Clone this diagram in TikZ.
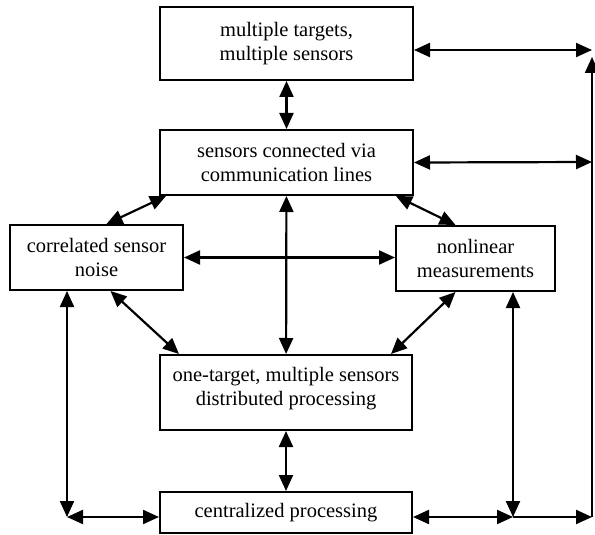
\documentclass[tikz,border=0pt]{standalone}
\usepackage{fontspec}
\setmainfont{Liberation Serif}
\usetikzlibrary{arrows.meta}

\begin{document}
\begin{tikzpicture}[x=1pt, y=-1pt,
rectWide/.style={rectangle, draw=black, line width=2pt, minimum width=253pt, align=center, inner sep=0pt, font=\fontsize{20.5}{24}\selectfont},
rectSide/.style={rectangle, draw=black, line width=2pt, minimum height=65pt, align=center, inner sep=0pt, font=\fontsize{20.5}{24}\selectfont},
link/.style={line width=2.2pt, {Triangle[length=16pt,width=14pt]}-{Triangle[length=16pt,width=14pt]}},
linkOne/.style={line width=2.2pt, -{Triangle[length=16pt,width=14pt]}}]

\useasboundingbox (0,0) rectangle (595,535);

\node[rectWide, minimum height=73pt] (multi) at (286.5, 43.5) {multiple targets,\\ multiple sensors};
\node[rectWide, minimum height=65pt] (comm) at (286.5, 162.5) {sensors connected via\\ communication lines};

\node[rectSide, minimum width=173pt] (corr) at (96.5, 257.5) {correlated sensor\\ noise};
\node[rectSide, minimum width=159pt] (nonlin) at (475.5, 258.5) {nonlinear\\ measurements};

\node[rectWide, minimum width=252pt, minimum height=75pt] (onet) at (286, 392.5) {one-target, multiple sensors\\ distributed processing\\[-12pt]};
\node[rectWide, minimum width=252pt, minimum height=41pt] (cent) at (286, 512.5) {centralized processing};

\coordinate (rTop) at (592, 50);
\coordinate (rTopUp) at (592, 57);
\coordinate (rMid) at (592, 162);
\coordinate (rBot) at (592, 517);
\coordinate (rJoin) at (513, 517);
\coordinate (lBot) at (67, 517);

\path[link] (multi) edge (comm)
	([yshift=-6.5pt]multi.east) edge (rTop)
	(comm.east) edge (rMid)
	([xshift=7pt]comm.south west) edge ([xshift=10pt]corr.north)
	([xshift=-18pt]comm.south east) edge ([xshift=-20pt]nonlin.north)
	(comm) edge (onet)
	(corr.east) edge (corr.east -| nonlin.west)
	([xshift=14pt]corr.south) edge ([xshift=20pt]onet.north west)
	([xshift=-20pt]nonlin.south) edge ([xshift=-22pt]onet.north east)
	(onet) edge (cent)
	(lBot |- corr.south) edge (lBot)
	(lBot) edge (lBot -| cent.west)
	(rJoin |- nonlin.south) edge (rJoin)
	(rJoin -| cent.east) edge (rJoin);

\path[linkOne] (rJoin) edge (rBot)
	(rBot) edge (rTopUp);

\end{tikzpicture}
\end{document}
